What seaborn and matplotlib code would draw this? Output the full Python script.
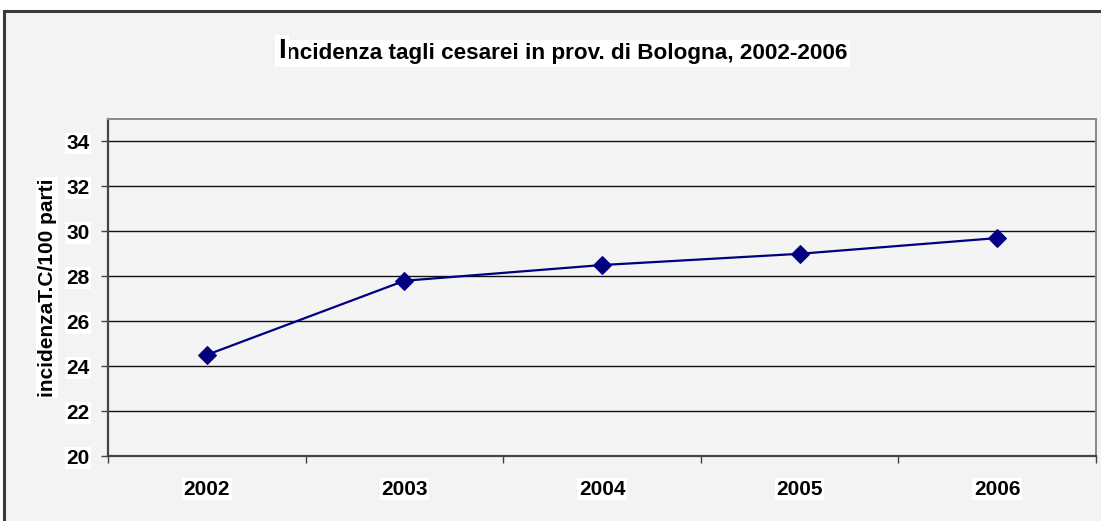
import matplotlib
matplotlib.use("Agg")
import matplotlib.pyplot as plt
import matplotlib.patches as mpatches
from matplotlib.text import Annotation
from matplotlib.ticker import FixedLocator
import seaborn as sns
import pandas as pd

years = ["2002", "2003", "2004", "2005", "2006"]
incidence = [24.5, 27.8, 28.5, 29.0, 29.7]
y_ticks = [20, 22, 24, 26, 28, 30, 32, 34]
title_first = "I"
title_rest = "ncidenza tagli cesarei in prov. di Bologna, 2002-2006"
y_label = "incidenzaT.C/100 parti"

sns.set_theme(style="white")
plt.rcParams['font.family'] = ['Liberation Sans', 'DejaVu Sans']
plt.rcParams['text.color'] = 'black'

fig = plt.figure(figsize=(11.01, 5.21), dpi=100)
fig.patch.set_facecolor("white")

# outer chart frame
frame = mpatches.Rectangle((4 / 1101, -0.02), 1.2, 1 - 11 / 521 + 0.02,
                           transform=fig.transFigure, facecolor="#f3f3f3",
                           edgecolor="#3a3a3a", linewidth=2.2, zorder=-10)
fig.patches.append(frame)

ax = fig.add_axes([108 / 1101, (521 - 456) / 521, 988 / 1101, 337 / 521])
ax.set_zorder(5)
ax.set_facecolor("#f4f4f4")

df = pd.DataFrame({"year": years, "val": incidence})
sns.lineplot(data=df, x="year", y="val", ax=ax, color="#000080",
             marker="D", markersize=9, markeredgecolor="#000080",
             linewidth=1.6, zorder=5)

ax.set_xlim(-0.5, 4.5)
ax.set_ylim(20, 35)
ax.set_yticks(y_ticks)
ax.yaxis.grid(True, color="#111111", linewidth=1.0)
ax.set_axisbelow(True)

for s in ["left", "bottom"]:
    ax.spines[s].set_color("#444444")
    ax.spines[s].set_linewidth(1.6)
for s in ["top", "right"]:
    ax.spines[s].set_color("#8a8a8a")
    ax.spines[s].set_linewidth(1.4)

ax.tick_params(axis="x", which="major", length=0, pad=17, labelsize=15)
ax.xaxis.set_minor_locator(FixedLocator([-0.5, 0.5, 1.5, 2.5, 3.5, 4.5]))
ax.tick_params(axis="x", which="minor", length=5, width=1, color="#444444",
               direction="out", bottom=True)
ax.tick_params(axis="y", which="major", length=5, width=1, color="#444444",
               direction="out", left=True, pad=8, labelsize=15)

for lab in ax.get_xticklabels() + ax.get_yticklabels():
    lab.set_fontweight("bold")
    lab.set_color("black")
    lab.set_bbox(dict(facecolor="white", edgecolor="none", pad=1))

ax.set_xlabel("")
ax.set_ylabel(y_label, fontsize=15, fontweight="bold", color="black",
              bbox=dict(facecolor="white", edgecolor="none", pad=1))
ax.yaxis.set_label_coords(-0.052, 0.5)

t1 = fig.text(278 / 1101, 1 - 58 / 521, title_first, fontsize=20,
              fontweight="bold", ha="left", va="baseline", color="black",
              bbox=dict(facecolor="white", edgecolor="none", pad=2))
fig.add_artist(Annotation(
    title_rest, xy=(1, 0), xycoords=t1, xytext=(0, 0),
    textcoords="offset points", fontsize=16.2, fontweight="bold",
    color="black", ha="left", va="bottom", annotation_clip=False,
    bbox=dict(facecolor="white", edgecolor="none", pad=2)))

fig.savefig("out.png", dpi=100)
